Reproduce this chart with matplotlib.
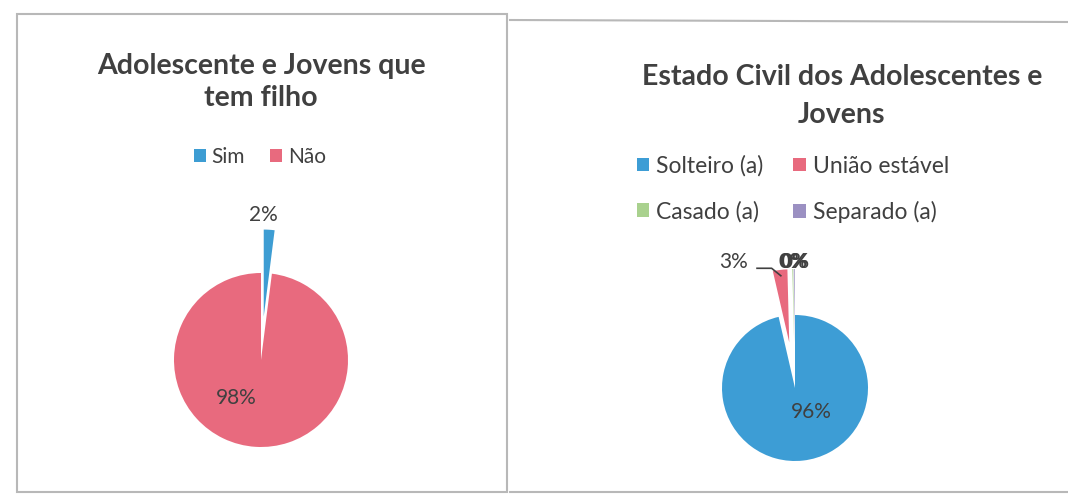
import matplotlib.pyplot as plt
from matplotlib.lines import Line2D
from matplotlib.patches import Rectangle
import numpy as np

# dados
filho_labels = ['Sim', 'Não']
filho_pct = [2, 98]
filho_cores = ['#3d9dd3', '#e86a7e']

civil_labels = ['Solteiro (a)', 'União estável', 'Casado (a)', 'Separado (a)']
civil_pct = [96.4, 3.2, 0.2, 0.2]
civil_cores = ['#3d9dd5', '#e86a7e', '#a9d18e', '#9b90c2']

W, H = 1068, 500
TXT = '#404040'
plt.rcParams['font.family'] = ['Lato', 'DejaVu Sans']


def px_axes(fig, cx, cy, half):
    """eixo quadrado centrado em (cx, cy) em pixels a partir do topo"""
    return fig.add_axes([(cx - half) / W, (H - cy - half) / H, 2 * half / W, 2 * half / H])


def pie_auto(ax, vals, cores, explode, r_px, half):
    lim = half / r_px
    wedges, _, autotexts = ax.pie(vals, colors=cores, startangle=90, counterclock=False,
                                  explode=explode, autopct='%.0f%%',
                                  textprops={'color': TXT, 'fontsize': 15},
                                  wedgeprops={'linewidth': 0})
    ax.set_xlim(-lim, lim)
    ax.set_ylim(-lim, lim)
    ax.set_aspect('auto')
    ax.axis('off')
    return wedges, autotexts


fig = plt.figure(figsize=(W / 100, H / 100), dpi=100)
fig.patch.set_facecolor('white')

# molduras dos dois gráficos
borda = '#b8b8b8'
fig.add_artist(Rectangle((17 / W, (H - 492) / H), (507 - 17) / W, (492 - 14) / H,
                         transform=fig.transFigure, fill=False, edgecolor=borda, lw=1.5))
fig.add_artist(Line2D([510 / W, 1.0], [(H - 20) / H, (H - 22) / H], transform=fig.transFigure,
                      color=borda, lw=1.5))
fig.add_artist(Line2D([510 / W, 1.0], [(H - 492) / H, (H - 492) / H], transform=fig.transFigure,
                      color=borda, lw=1.5))

# ---- gráfico 1: tem filho ----
ax1 = px_axes(fig, 261, 360, 130)
w1, t1 = pie_auto(ax1, filho_pct, filho_cores, [0.5, 0], 87, 130)
t1[0].set_position((0.03, 1.67))
t1[1].set_position((-0.28, -0.44))

fig.text(261 / W, 1 - 82 / H, 'Adolescente e Jovens que\ntem filho', ha='center', va='center',
         fontsize=20.5, fontweight='bold', color=TXT, linespacing=1.3)
fig.legend(w1, filho_labels, loc='center', bbox_to_anchor=(260 / W, 1 - 157 / H), ncol=2,
           frameon=False, fontsize=15, handlelength=0.55, handleheight=0.55, handletextpad=0.3,
           columnspacing=1.2, labelcolor=TXT)

# ---- gráfico 2: estado civil ----
ax2 = px_axes(fig, 795, 388, 130)
w2, t2 = pie_auto(ax2, civil_pct, civil_cores, [0, 0.63, 0.63, 0.63], 73, 130)
t2[0].set_position((0.23, -0.33))
t2[1].set_position((-0.84, 1.73))
t2[2].set_position((-0.03, 1.73))
t2[3].set_position((0.0, 1.73))
for t in t2[2:]:
    t.set_fontweight('bold')

# linha guia do rótulo 3% até a fatia
wg = w2[1]
ang = np.deg2rad((wg.theta1 + wg.theta2) / 2)
ponta = (wg.center[0] + 0.92 * wg.r * np.cos(ang), wg.center[1] + 0.92 * wg.r * np.sin(ang))
ax2.plot([-0.52, -0.32, ponta[0]], [1.64, 1.64, ponta[1]], color=TXT, lw=1.2, clip_on=False)

fig.text(842 / W, 1 - 96 / H, 'Estado Civil dos Adolescentes e\nJovens', ha='center', va='center',
         fontsize=20.5, fontweight='bold', color=TXT, linespacing=1.6)
ordem = [0, 2, 1, 3]
fig.legend([w2[i] for i in ordem], [civil_labels[i] for i in ordem], loc='center',
           bbox_to_anchor=(793 / W, 1 - 189 / H), ncol=2, frameon=False, fontsize=16.5,
           handlelength=0.55, handleheight=0.55, handletextpad=0.3, columnspacing=1.3,
           labelspacing=1.05, labelcolor=TXT)

fig.savefig('out.png', dpi=100, facecolor='white')
